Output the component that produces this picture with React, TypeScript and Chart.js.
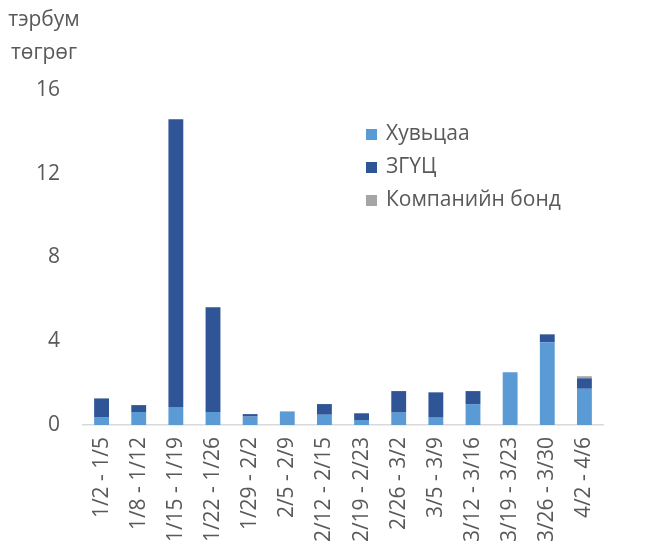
import React, { useEffect, useRef } from "react";
import { Chart, registerables } from "chart.js";

Chart.register(...registerables);

const categories = ["1/2 - 1/5", "1/8 - 1/12", "1/15 - 1/19", "1/22 - 1/26", "1/29 - 2/2", "2/5 - 2/9", "2/12 - 2/15", "2/19 - 2/23", "2/26 - 3/2", "3/5 - 3/9", "3/12 - 3/16", "3/19 - 3/23", "3/26 - 3/30", "4/2 - 4/6"];
const stocks = [0.38, 0.62, 0.86, 0.62, 0.40, 0.65, 0.49, 0.24, 0.59, 0.35, 1.0, 2.52, 3.95, 1.73];
const govSecurities = [0.89, 0.33, 13.74, 5.0, 0.12, 0, 0.51, 0.32, 1.03, 1.21, 0.62, 0, 0.38, 0.5];
const corpBonds = [0, 0, 0, 0, 0, 0, 0, 0, 0, 0, 0, 0, 0, 0.1];
const seriesNames = ["Хувьцаа", "ЗГҮЦ", "Компанийн бонд"];
const yTitleLines = ["тэрбум", "төгрөг"];
const yTicks = { min: 0, max: 16, step: 4 };

const FONT = "'Open Sans', sans-serif";
const TEXT = "#595959";

const overlayPlugin = {
  id: "overlay",
  afterDraw(chart: any) {
    const ctx = chart.ctx;
    ctx.save();
    ctx.fillStyle = TEXT;
    ctx.font = `21px ${FONT}`;
    ctx.textAlign = "center";
    ctx.textBaseline = "middle";
    ctx.fillText(yTitleLines[0], 44, 20);
    ctx.fillText(yTitleLines[1], 44, 53);
    // legend
    ctx.textAlign = "left";
    chart.data.datasets.forEach((ds: any, i: number) => {
      const y = 134.5 + i * 33;
      ctx.fillStyle = ds.backgroundColor;
      ctx.fillRect(366, y - 5.5, 11, 11);
      ctx.fillStyle = TEXT;
      ctx.fillText(ds.label, 386, y);
    });
    ctx.restore();
  },
};

export default function App() {
  const ref = useRef<HTMLCanvasElement>(null);
  useEffect(() => {
    document.body.style.margin = "0";
    const chart = new Chart(ref.current!, {
      type: "bar",
      data: {
        labels: categories,
        datasets: [
          { label: seriesNames[0], data: stocks, backgroundColor: "#5B9BD5" },
          { label: seriesNames[1], data: govSecurities, backgroundColor: "#2F5597" },
          { label: seriesNames[2], data: corpBonds, backgroundColor: "#A5A5A5" },
        ],
      },
      options: {
        animation: false,
        responsive: false,
        layout: { padding: { top: 90, right: 65, left: 0, bottom: 0 } },
        plugins: { legend: { display: false }, tooltip: { enabled: false } },
        datasets: { bar: { barPercentage: 0.4, categoryPercentage: 1 } } as any,
        scales: {
          x: {
            stacked: true,
            grid: { display: false, drawTicks: false },
            border: { display: true, color: "#D9D9D9", width: 1.5 },
            ticks: { color: TEXT, font: { family: FONT, size: 21 }, minRotation: 90, maxRotation: 90, padding: 12, autoSkip: false },
            afterFit: (s: any) => { s.height = 132; },
          },
          y: {
            stacked: true,
            min: yTicks.min,
            max: yTicks.max,
            grid: { display: false, drawTicks: false },
            border: { display: false },
            ticks: { stepSize: yTicks.step, color: TEXT, font: { family: FONT, size: 21 }, padding: 23 },
            afterFit: (s: any) => { s.width = 83; },
          },
        },
      },
      plugins: [overlayPlugin],
    });
    return () => chart.destroy();
  }, []);
  return (
    <div style={{ width: 668, height: 557 }}>
      <canvas ref={ref} width={668} height={557} style={{ width: 668, height: 557 }} />
    </div>
  );
}
